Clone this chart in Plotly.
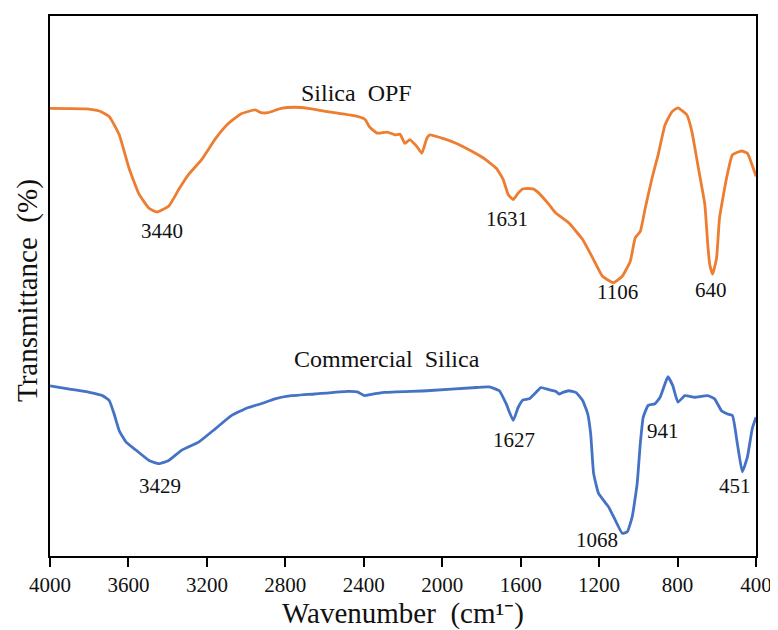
import plotly.graph_objects as go

# ---- data (wavenumber in cm^-1, transmittance in arbitrary % offset units) ----
opf_wn = [4000, 3814, 3749, 3698, 3647, 3597, 3546, 3495, 3455, 3394, 3343, 3292, 3227, 3156,
          3091, 3025, 2954, 2924, 2888, 2822, 2751, 2686, 2569, 2433, 2392, 2372, 2332, 2281,
          2241, 2215, 2190, 2165, 2129, 2104, 2078, 2063, 1993, 1927, 1861, 1790, 1724, 1689,
          1663, 1638, 1613, 1588, 1537, 1507, 1456, 1421, 1355, 1284, 1233, 1183, 1127, 1082,
          1041, 1016, 990, 965, 930, 899, 864, 828, 798, 753, 727, 697, 661, 646, 636, 621,
          601, 586, 550, 520, 474, 444, 408, 400]
opf_t = [82.9, 82.8, 82.4, 81.4, 78.0, 71.8, 67.0, 64.4, 63.7, 64.8, 67.9, 70.7, 73.4, 77.3,
         80.1, 81.9, 82.6, 82.1, 82.1, 82.9, 83.1, 82.9, 82.2, 81.4, 80.8, 79.5, 78.3, 78.5,
         78.0, 78.1, 76.4, 77.1, 75.8, 74.6, 77.4, 78.0, 77.3, 76.4, 75.2, 73.7, 71.8, 69.7,
         66.9, 66.0, 67.2, 68.0, 68.0, 67.2, 65.1, 63.5, 61.7, 58.6, 55.2, 51.8, 50.6, 51.8,
         54.6, 58.9, 60.1, 64.4, 70.0, 74.3, 79.8, 82.3, 83.0, 81.7, 78.6, 72.5, 65.1, 57.7,
         54.0, 52.2, 55.2, 62.6, 70.0, 74.3, 75.0, 74.6, 71.2, 70.3]

com_wn = [4000, 3900, 3799, 3733, 3698, 3673, 3647, 3612, 3561, 3495, 3445, 3394, 3328, 3242,
          3156, 3075, 2989, 2924, 2853, 2787, 2650, 2483, 2433, 2397, 2367, 2296, 2079, 1825,
          1760, 1709, 1674, 1638, 1613, 1588, 1557, 1522, 1497, 1456, 1421, 1405, 1385, 1355,
          1319, 1284, 1258, 1243, 1228, 1203, 1152, 1117, 1082, 1056, 1031, 1006, 990, 975,
          950, 915, 889, 864, 849, 824, 798, 763, 713, 647, 611, 576, 545, 520, 495, 470,
          444, 419, 400]
com_t = [31.5, 30.9, 30.3, 29.7, 28.8, 26.3, 23.2, 21.1, 19.6, 17.7, 17.1, 17.7, 19.6, 21.1,
         23.6, 26.0, 27.5, 28.2, 29.1, 29.6, 30.0, 30.5, 30.4, 29.7, 29.9, 30.3, 30.6, 31.2,
         31.3, 30.6, 28.2, 25.1, 27.5, 28.9, 29.1, 30.3, 31.2, 30.8, 30.5, 30.0, 30.3, 30.6,
         30.3, 28.8, 26.3, 22.6, 15.3, 11.6, 9.1, 6.6, 4.2, 4.5, 7.3, 13.4, 20.8, 25.7,
         27.9, 28.2, 29.4, 31.9, 33.2, 31.5, 28.5, 29.7, 29.4, 29.7, 29.1, 26.9, 26.3, 26.0,
         20.8, 15.6, 18.3, 23.6, 25.7]

series_names = ["Silica OPF", "Commercial Silica"]
opf_peaks = ["3440", "1631", "1106", "640"]
com_peaks = ["3429", "1627", "1068", "941", "451"]
x_ticks = [4000, 3600, 3200, 2800, 2400, 2000, 1600, 1200, 800, 400]

# ---- label placement (layout, data coords) ----
opf_peak_pos = [(3430, 60.1), (1669, 62.4), (1107, 48.9), (631, 49.3)]
com_peak_pos = [(3440, 12.9), (1633, 21.5), (1213, 3.0), (874, 23.1), (505, 12.9)]
name_pos = [(2438, 85.8), (2281, 36.5)]

ORANGE = "#ED7D31"
BLUE = "#4472C4"
FONT = "Liberation Serif, Times New Roman, serif"

fig = go.Figure()
fig.add_trace(go.Scatter(x=opf_wn, y=opf_t, mode="lines", name=series_names[0],
                         line=dict(color=ORANGE, width=2.8, shape="spline", smoothing=0.4)))
fig.add_trace(go.Scatter(x=com_wn, y=com_t, mode="lines", name=series_names[1],
                         line=dict(color=BLUE, width=2.8, shape="spline", smoothing=0.4)))

annotations = []
for txt, (x, y) in zip(opf_peaks + com_peaks, opf_peak_pos + com_peak_pos):
    annotations.append(dict(x=x, y=y, xref="x", yref="y", text=txt, showarrow=False,
                            font=dict(family=FONT, size=21, color="#111"),
                            xanchor="center", yanchor="middle"))
for txt, (x, y) in zip(series_names, name_pos):
    annotations.append(dict(x=x, y=y, xref="x", yref="y", text=txt.replace(" ", "\u00a0 "),
                            showarrow=False, font=dict(family=FONT, size=24, color="#111"),
                            xanchor="center", yanchor="middle"))
# axis titles
annotations.append(dict(x=0.5, y=0, xref="paper", yref="paper", yshift=-57,
                        text="Wavenumber\u00a0 (cm\u00b9\u207b)", showarrow=False,
                        font=dict(family=FONT, size=29, color="#111"),
                        xanchor="center", yanchor="middle"))
annotations.append(dict(x=0, y=0.5, xref="paper", yref="paper", xshift=-23, yshift=-5,
                        text="Transmittance\u00a0 (%)", textangle=-90, showarrow=False,
                        font=dict(family=FONT, size=29, color="#111"),
                        xanchor="center", yanchor="middle"))

# the page body adds an 8px offset, so the figure is 8px smaller on each offset side
fig.update_layout(
    width=770, height=622,
    margin=dict(l=42, r=16, t=6, b=74),
    paper_bgcolor="white", plot_bgcolor="white",
    showlegend=False,
    annotations=annotations,
    xaxis=dict(range=[4000, 400], tickmode="array", tickvals=x_ticks,
               ticks="outside", ticklen=9, tickwidth=1.5, tickcolor="#000",
               showline=True, linecolor="#000", linewidth=1.5, mirror=True,
               showgrid=False, zeroline=False,
               tickfont=dict(family=FONT, size=21, color="#111")),
    yaxis=dict(range=[0, 100], showticklabels=False, ticks="",
               showline=True, linecolor="#000", linewidth=1.5, mirror=True,
               showgrid=False, zeroline=False),
)

fig.write_html("out.html")
